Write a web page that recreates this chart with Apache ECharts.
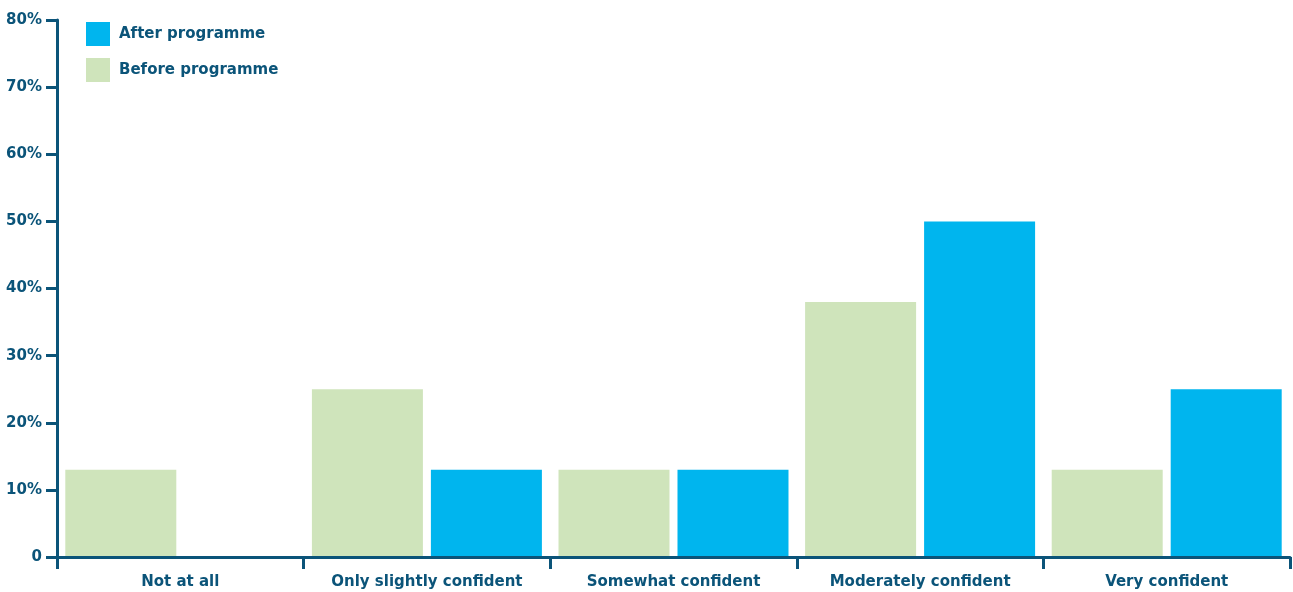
<!DOCTYPE html>
<html><head><meta charset="utf-8">
<script src="https://cdn.jsdelivr.net/npm/echarts@6/dist/echarts.min.js"></script>
<style>html,body{margin:0;padding:0;background:#fff}#c{width:1293px;height:592px}</style>
</head><body><div id="c"></div>
<script>
const categories = ['Not at all', 'Only slightly confident', 'Somewhat confident', 'Moderately confident', 'Very confident'];
const beforeValues = [13, 25, 13, 38, 13];
const afterValues = [0, 13, 13, 50, 25];
const seriesNames = ['Before programme', 'After programme'];
const legendOrder = ['After programme', 'Before programme'];

const textColor = '#0b5479';
const axisColor = '#0b5479';
const font = 'DejaVu Sans';

const chart = echarts.init(document.getElementById('c'));
chart.setOption({
  animation: false,
  grid: { left: 57, right: 3, top: 20, bottom: 35, containLabel: false },
  legend: {
    data: legendOrder,
    orient: 'vertical',
    left: 81, top: 17,
    itemWidth: 24, itemHeight: 24, itemGap: 12,
    icon: 'rect',
    textStyle: { color: textColor, fontFamily: font, fontWeight: 'bold', fontSize: 15, padding: [0, 0, 0, 4] }
  },
  xAxis: {
    type: 'category', data: categories, z: 5,
    axisLine: { lineStyle: { color: axisColor, width: 3 } },
    axisTick: { show: true, interval: 0, length: 12, lineStyle: { color: axisColor, width: 3 } },
    axisLabel: { interval: 0, hideOverlap: false, color: textColor, fontFamily: font, fontWeight: 'bold', fontSize: 15, margin: 18 }
  },
  yAxis: {
    type: 'value', min: 0, max: 80, interval: 10,
    splitLine: { show: false },
    axisLine: { show: true, lineStyle: { color: axisColor, width: 3 } },
    axisTick: { show: true, length: 11, lineStyle: { color: axisColor, width: 3 } },
    axisLabel: { color: textColor, fontFamily: font, fontWeight: 'bold', fontSize: 15, margin: 15,
      formatter: v => v === 0 ? '0' : v + '%' }
  },
  series: [
    { name: seriesNames[0], type: 'bar', data: beforeValues, barWidth: 111, barGap: '7.2%',
      itemStyle: { color: '#cfe4bb' } },
    { name: seriesNames[1], type: 'bar', data: afterValues, barWidth: 111,
      itemStyle: { color: '#00b5ee' } }
  ]
});
</script></body></html>
